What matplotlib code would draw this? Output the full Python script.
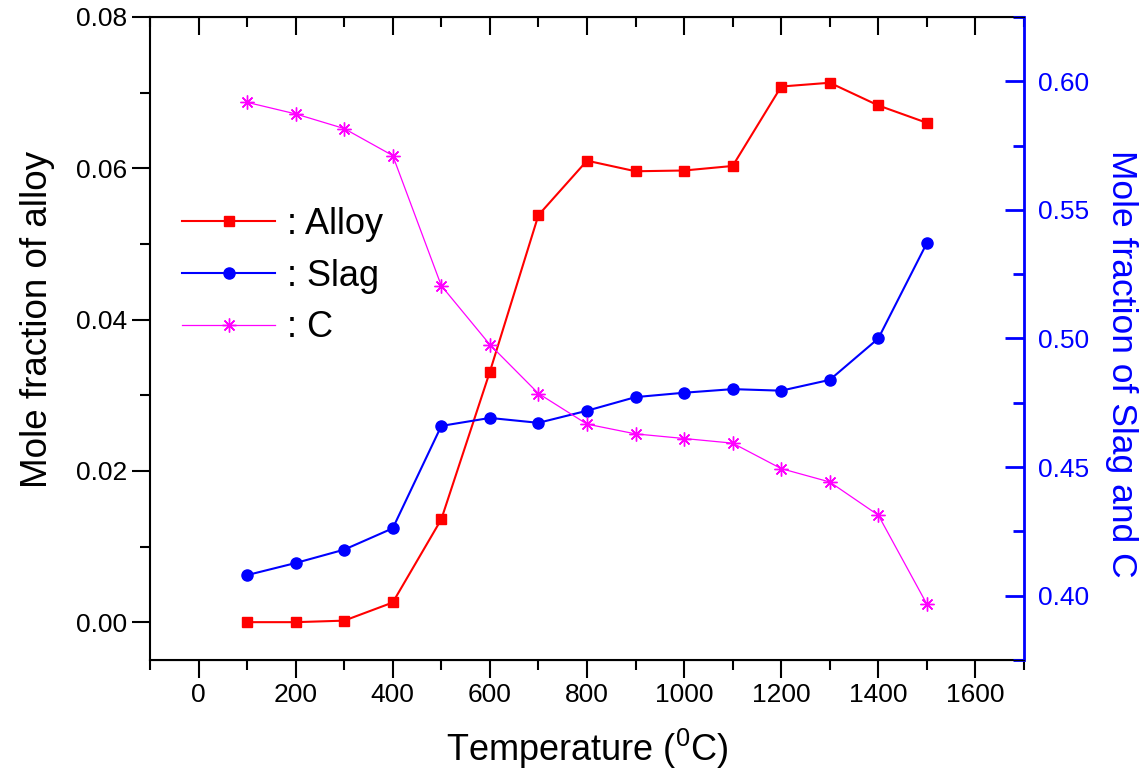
import matplotlib
matplotlib.use("Agg")
import matplotlib.pyplot as plt
from matplotlib.ticker import MultipleLocator

plt.rcParams["font.family"] = ["Liberation Sans", "DejaVu Sans"]

temperature = [100, 200, 300, 400, 500, 600, 700, 800, 900, 1000, 1100, 1200, 1300, 1400, 1500]
alloy = [0.0000, 0.0000, 0.0002, 0.0026, 0.0136, 0.0331, 0.0538, 0.0610, 0.0596,
         0.0597, 0.0603, 0.0708, 0.0713, 0.0683, 0.0660]
slag = [0.4080, 0.4127, 0.4179, 0.4262, 0.4660, 0.4691, 0.4672, 0.4719, 0.4772,
        0.4789, 0.4803, 0.4797, 0.4839, 0.5000, 0.5371]
carbon = [0.5918, 0.5873, 0.5816, 0.5711, 0.5205, 0.4976, 0.4786, 0.4667, 0.4629,
          0.4611, 0.4593, 0.4494, 0.4442, 0.4313, 0.3967]

fig = plt.figure(figsize=(11.44, 7.73), dpi=100)
ax = fig.add_axes([0.1311, 0.1462, 0.7640, 0.8319])
ax2 = ax.twinx()

l1, = ax.plot(temperature, alloy, color="red", lw=1.5, marker="s", ms=7,
              label=": Alloy")
l2, = ax2.plot(temperature, slag, color="blue", lw=1.5, marker="o", ms=8,
               label=": Slag")
l3, = ax2.plot(temperature, carbon, color="magenta", lw=0.9, marker=(8, 2, 0), ms=10,
               mew=1.0, label=": C")

ax.set_xlim(-100, 1700)
ax.set_ylim(-0.005, 0.08)
ax2.set_ylim(0.375, 0.625)

ax.xaxis.set_major_locator(MultipleLocator(200))
ax.xaxis.set_minor_locator(MultipleLocator(100))
ax.yaxis.set_major_locator(MultipleLocator(0.02))
ax.yaxis.set_minor_locator(MultipleLocator(0.01))
ax.yaxis.set_major_formatter(plt.FormatStrFormatter("%.2f"))
ax2.yaxis.set_major_locator(MultipleLocator(0.05))
ax2.yaxis.set_minor_locator(MultipleLocator(0.025))
ax2.yaxis.set_major_formatter(plt.FormatStrFormatter("%.2f"))

ax.tick_params(axis="x", which="both", direction="out", top=True, labelsize=19, width=1.5)
ax.tick_params(axis="x", which="major", length=13)
ax.tick_params(axis="x", which="minor", length=7)
ax.tick_params(axis="y", which="major", direction="out", length=13, width=1.5, labelsize=19)
ax.tick_params(axis="y", which="minor", direction="out", length=7, width=1.5)
ax2.tick_params(axis="y", which="major", direction="in", length=14, width=2,
                colors="blue", labelsize=19, pad=10)
ax2.tick_params(axis="y", which="minor", direction="in", length=8, width=2, colors="blue")

# top ticks point inward, bottom outward
for t in ax.xaxis.get_major_ticks() + ax.xaxis.get_minor_ticks():
    t.tick2line.set_marker(3)

for s in ["left", "bottom", "top"]:
    ax.spines[s].set_linewidth(1.5)
ax2.spines["right"].set_color("blue")
ax2.spines["right"].set_linewidth(2)
ax2.spines["left"].set_visible(False)

ax.set_xlabel(r"Temperature ($\mathregular{^0}$C)", fontsize=26, labelpad=14)
ax.set_ylabel("Mole fraction of alloy", fontsize=26.5, labelpad=15)
ax.yaxis.label.set_y(0.529)
ax2.set_ylabel("Mole fraction of Slag and C", fontsize=25.5, color="blue",
               rotation=270, labelpad=35)
ax2.yaxis.label.set_y(0.46)

ax2.legend(handles=[l1, l2, l3], loc="upper left", bbox_to_anchor=(0.0, 0.755),
           frameon=False, fontsize=26, handlelength=2.55, handletextpad=0.35,
           labelspacing=0.46, numpoints=1)

fig.savefig("out.png", dpi=100)
